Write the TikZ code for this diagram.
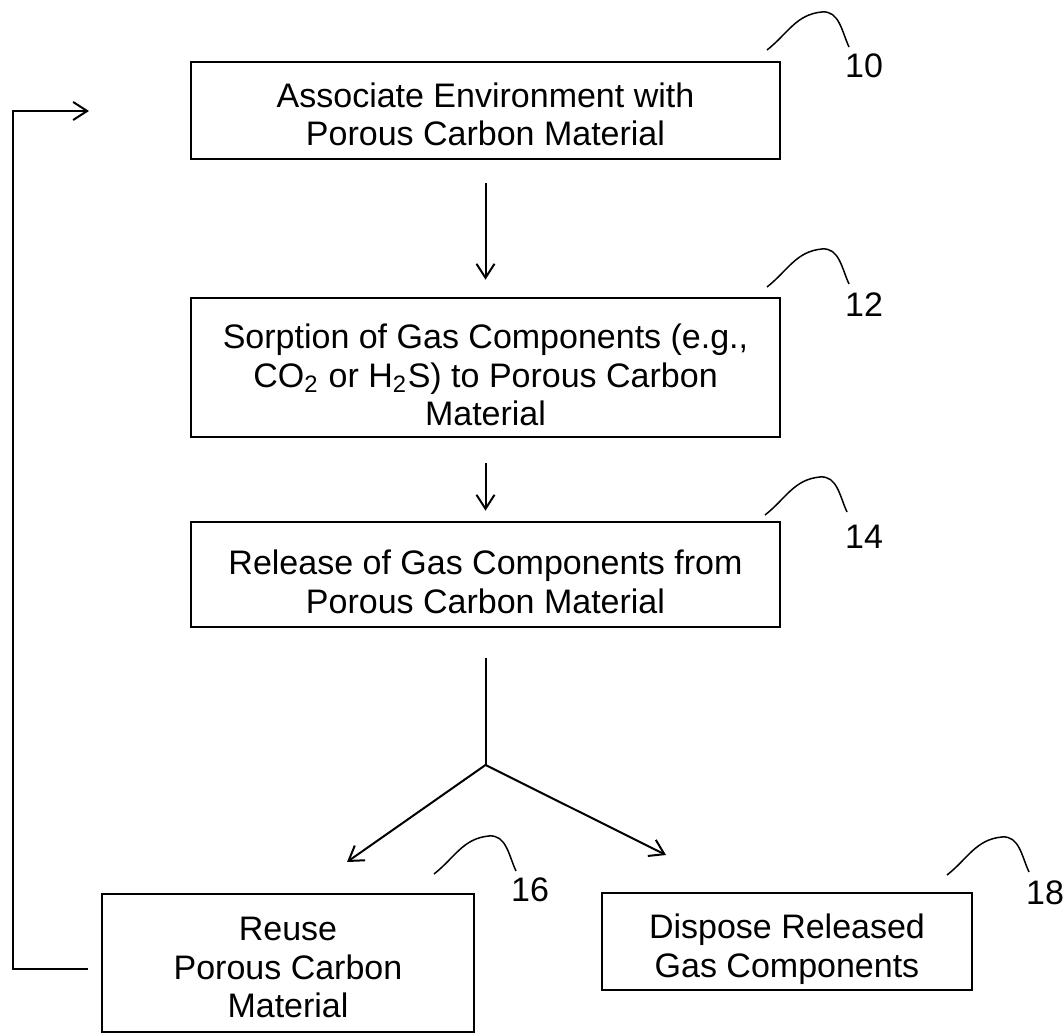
\documentclass[tikz,border=0pt]{standalone}
\usepackage{fontspec}
\setmainfont{Liberation Sans}
\usetikzlibrary{arrows.meta}
\newcommand\lowerby[1]{\rule{0pt}{#1}}
\tikzset{
  stepbox/.style={draw=black, line width=0.8pt, rectangle, inner sep=0pt, align=center,
    minimum width=176.7pt, font=\fontsize{10.2}{11.6}\selectfont},
  flow/.style={line width=0.6pt, -{Straight Barb[length=4.2pt,width=5.4pt,line width=0.6pt]}},
  plainline/.style={line width=0.6pt},
  leader/.style={line width=0.45pt},
  reflabel/.style={inner sep=0pt, font=\fontsize{10.2}{11.6}\selectfont}
}
\begin{document}
\begin{tikzpicture}[x=0.3pt, y=-0.3pt]
\useasboundingbox (0,0) rectangle (1064,1034);

% boxes
\node[stepbox, minimum height=29.1pt] (b10) at (485.5,110.5) {\lowerby{9.8pt}Associate Environment with\\Porous Carbon Material};
\node[stepbox, minimum height=41.7pt] (b12) at (485.5,367.5) {\lowerby{12pt}Sorption of Gas Components (e.g.,\\CO\textsubscript{2} or H\textsubscript{2}S) to Porous Carbon\\Material};
\node[stepbox, minimum height=31.5pt] (b14) at (485.5,574.5) {\lowerby{12pt}Release of Gas Components from\\Porous Carbon Material};
\node[stepbox, minimum width=111.6pt, minimum height=41.4pt] (b16) at (288,963) {\lowerby{9.8pt}Reuse\\Porous Carbon\\Material};
\node[stepbox, minimum width=111pt, minimum height=29.1pt] (b18) at (787,941.5) {\lowerby{12pt}Dispose Released\\Gas Components};

% reference labels
\node[reflabel] (l10) at (864,66) {10};
\node[reflabel] (l12) at (864,305) {12};
\node[reflabel] (l14) at (864,537) {14};
\node[reflabel] (l16) at (530,890) {16};
\node[reflabel] (l18) at (1045,893) {18};

\coordinate (c10) at (767,50);
\coordinate (c12) at (767,287);
\coordinate (c14) at (765,515);
\coordinate (c16) at (434,874);
\coordinate (c18) at (947,875);

\foreach \c in {c10,c12,c14,c16,c18}{
  \draw[leader] (\c) to[out=38,in=185] ++(55,-38) to[out=5,in=115] ++(27,35);
}

% main flow
\draw[flow, shorten <=6.9pt, shorten >=5.1pt] (b10.south) -- (b12.north);
\draw[flow, shorten <=7.5pt, shorten >=3pt] (b12.south) -- (b14.north);

\coordinate (j) at (485.5,765);
\coordinate (t16) at (347,862);
\coordinate (t18) at (666,855);
\draw[plainline, shorten <=9pt] (b14.south) -- (j);
\draw[flow] (j) -- (t16);
\draw[flow] (j) -- (t18);

% feedback loop
\coordinate (fbc) at (13,111);
\coordinate (fbt) at (89,111);
\draw[flow] ([xshift=-3.9pt,yshift=-1.8pt]b16.west) -| (fbc) -- (fbt);
\end{tikzpicture}
\end{document}
